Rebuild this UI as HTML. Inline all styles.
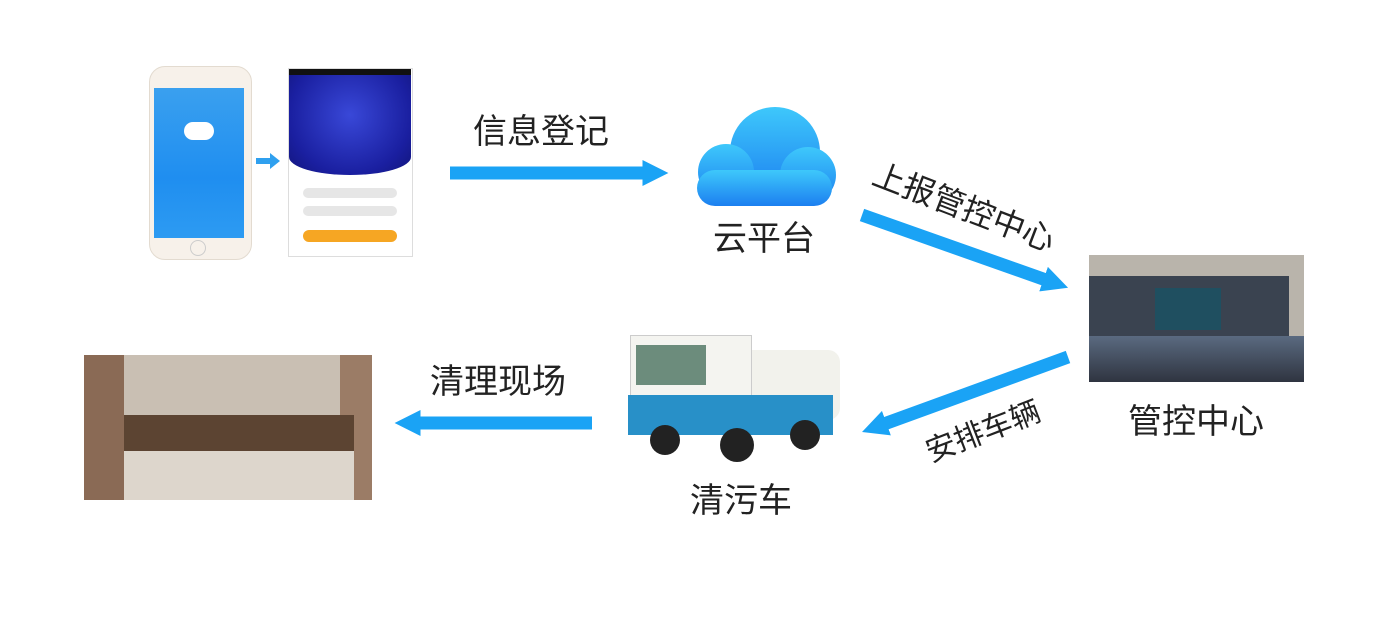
<!DOCTYPE html>
<html><head><meta charset="utf-8"><style>
body{margin:0;width:1380px;height:635px;background:#fff;position:relative;overflow:hidden;font-family:"Liberation Sans","Noto Sans CJK SC",sans-serif;}
.a{position:absolute}
.t{position:absolute;font-size:34px;color:#222;white-space:nowrap;line-height:1}
</style></head><body>
<!-- phone 1 -->
<div class="a" style="left:149px;top:66px;width:101px;height:192px;background:#f7f1ea;border:1px solid #e3dbd0;border-radius:16px"></div>
<div class="a" style="left:154px;top:88px;width:90px;height:150px;background:linear-gradient(#3aa0ef,#1f8ef0 60%,#2d9bf2)"></div>
<div class="a" style="left:184px;top:122px;width:30px;height:18px;background:#fff;border-radius:10px"></div>
<div class="a" style="left:190px;top:240px;width:14px;height:14px;border:1px solid #ccc;border-radius:50%"></div>
<svg class="a" style="left:256px;top:152px" width="26" height="18"><path d="M0 6h14V1l10 8-10 8v-5H0z" fill="#2fa0ef"/></svg>
<!-- phone 2 -->
<div class="a" style="left:288px;top:68px;width:123px;height:187px;background:#fff;border:1px solid #ddd"></div>
<div class="a" style="left:289px;top:69px;width:122px;height:6px;background:#111"></div>
<div class="a" style="left:289px;top:75px;width:122px;height:100px;background:radial-gradient(ellipse at 50% 40%,#3948d8,#1a1fa0 70%,#12157a);border-radius:0 0 50% 50%/0 0 18% 18%"></div>
<div class="a" style="left:303px;top:188px;width:94px;height:10px;background:#e6e6e6;border-radius:5px"></div>
<div class="a" style="left:303px;top:206px;width:94px;height:10px;background:#e6e6e6;border-radius:5px"></div>
<div class="a" style="left:303px;top:230px;width:94px;height:12px;background:#f6a623;border-radius:6px"></div>
<svg class="a" style="left:0;top:0" width="1380" height="635">
<defs><marker id="m" markerWidth="2" markerHeight="2" refX="0.2" refY="1" orient="auto" markerUnits="strokeWidth"><path d="M0 0L2 1L0 2z" fill="#1aa3f5"/></marker>
<linearGradient id="cg" x1="0" y1="0" x2="0" y2="1"><stop offset="0" stop-color="#3ec8fb"/><stop offset="1" stop-color="#1c7ff0"/></linearGradient></defs>
<g stroke="#1aa3f5" stroke-width="13" fill="none">
<line x1="450" y1="173" x2="645" y2="173" marker-end="url(#m)"/>
<line x1="862" y1="215" x2="1046" y2="280" marker-end="url(#m)"/>
<line x1="1068" y1="357" x2="884" y2="424" marker-end="url(#m)"/>
<line x1="592" y1="423" x2="418" y2="423" marker-end="url(#m)"/>
</g>
<g fill="url(#cg)">
<circle cx="775" cy="152" r="45"/>
<circle cx="726" cy="172" r="28"/>
<circle cx="808" cy="175" r="28"/>
<rect x="697" y="170" width="135" height="36" rx="18"/>
</g>
</svg>
<!-- control center photo -->
<div class="a" style="left:1089px;top:255px;width:215px;height:127px;background:#b9b4ab"></div>
<div class="a" style="left:1089px;top:276px;width:200px;height:60px;background:#3a4350"></div>
<div class="a" style="left:1155px;top:288px;width:66px;height:42px;background:#1f4f60"></div>
<div class="a" style="left:1089px;top:336px;width:215px;height:46px;background:linear-gradient(#5a6a80,#2f3440)"></div>
<!-- truck -->
<div class="a" style="left:700px;top:350px;width:140px;height:70px;background:#f2f2ec;border-radius:30px 12px 12px 30px"></div>
<div class="a" style="left:630px;top:335px;width:120px;height:90px;background:#f4f4f0;border:1px solid #ccc"></div>
<div class="a" style="left:636px;top:345px;width:70px;height:40px;background:#6c8c7c"></div>
<div class="a" style="left:628px;top:395px;width:205px;height:40px;background:#2890c8"></div>
<div class="a" style="left:650px;top:425px;width:30px;height:30px;background:#222;border-radius:50%"></div>
<div class="a" style="left:720px;top:428px;width:34px;height:34px;background:#222;border-radius:50%"></div>
<div class="a" style="left:790px;top:420px;width:30px;height:30px;background:#222;border-radius:50%"></div>
<!-- toilet photo -->
<div class="a" style="left:84px;top:355px;width:288px;height:145px;background:#c9bfb3"></div>
<div class="a" style="left:84px;top:355px;width:40px;height:145px;background:#8a6a55"></div>
<div class="a" style="left:340px;top:355px;width:32px;height:145px;background:#9b7c66"></div>
<div class="a" style="left:124px;top:415px;width:230px;height:36px;background:#5c4432"></div>
<div class="a" style="left:124px;top:451px;width:230px;height:49px;background:#ddd6cc"></div>
<!-- labels -->
<div class="t" style="left:473px;top:115px">信息登记</div>
<div class="t" style="left:713px;top:222px">云平台</div>
<div class="t" style="left:880px;top:158px;transform:rotate(21deg);transform-origin:left top;font-size:32px">上报管控中心</div>
<div class="t" style="left:1128px;top:405px">管控中心</div>
<div class="t" style="left:922px;top:440px;transform:rotate(-21deg);transform-origin:left top;font-size:30px">安排车辆</div>
<div class="t" style="left:690px;top:484px">清污车</div>
<div class="t" style="left:430px;top:365px">清理现场</div>
</body></html>
